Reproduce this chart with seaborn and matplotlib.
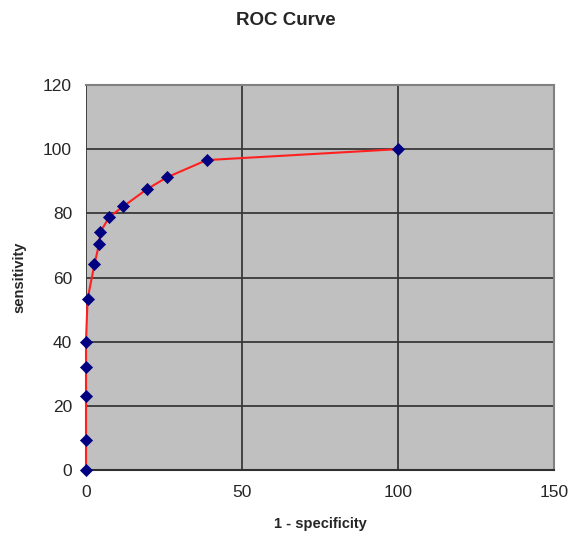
import matplotlib
matplotlib.use("Agg")
import matplotlib.pyplot as plt
import pandas as pd
import seaborn as sns

# ROC points (1 - specificity, sensitivity)
fpr = [0, 0, 0, 0, 0, 0.5, 2.7, 4.2, 4.6, 7.5, 12.0, 19.5, 25.9, 38.7, 100]
tpr = [0, 9.4, 23.2, 32.2, 40, 53.2, 64.1, 70.4, 74.2, 78.9, 82.2, 87.5, 91.2, 96.6, 100]
x_ticks = [0, 50, 100, 150]
y_ticks = [0, 20, 40, 60, 80, 100, 120]

sns.set_style("white")
plt.rcParams["font.family"] = ["Liberation Sans", "DejaVu Sans"]

df = pd.DataFrame({"fpr": fpr, "tpr": tpr})

fig = plt.figure(figsize=(5.71, 5.38), dpi=100)
ax = fig.add_axes([0.1506, 0.1264, 0.8196, 0.7156])
ax.set_facecolor("#C0C0C0")

sns.lineplot(data=df, x="fpr", y="tpr", sort=False, estimator=None,
             color="#FF2020", linewidth=1.5, ax=ax, zorder=3, clip_on=False)
sns.scatterplot(data=df, x="fpr", y="tpr", marker="D", s=38, color="#000080",
                edgecolor="#000080", linewidth=0.5, ax=ax, zorder=4, clip_on=False)

ax.set_xlim(0, 150)
ax.set_ylim(0, 120)
ax.set_xticks(x_ticks)
ax.set_yticks(y_ticks)
ax.grid(True, color="#383838", linewidth=1.3)
ax.set_axisbelow(True)

for side in ["top", "right"]:
    ax.spines[side].set_color("#808080")
    ax.spines[side].set_linewidth(1.5)
ax.spines["bottom"].set_color("#303030")
ax.spines["bottom"].set_linewidth(1.5)
ax.spines["left"].set_visible(False)

ax.tick_params(axis="x", direction="out", length=5, width=1.2, color="#303030",
               labelsize=12.5, pad=6)
ax.tick_params(axis="y", length=0, labelsize=12.5, pad=10)

ax.set_xlabel("1 - specificity", fontsize=10.5, fontweight="bold", labelpad=12)
ax.set_ylabel("sensitivity", fontsize=10.5, fontweight="bold", labelpad=12)
fig.suptitle("ROC Curve", fontsize=13.5, fontweight="bold", y=0.978)

plt.savefig("out.png", dpi=100)
plt.close()
